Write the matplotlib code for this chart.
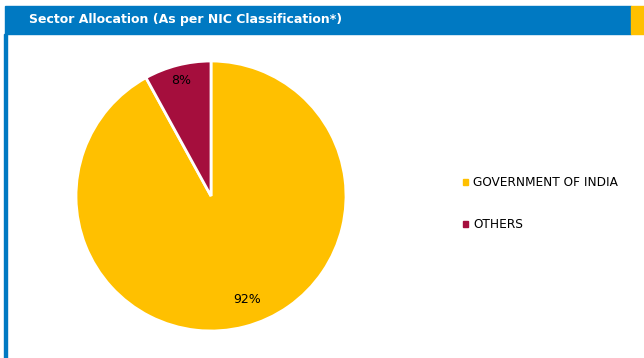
import matplotlib.pyplot as plt
from matplotlib.patches import Rectangle

sectors = ["GOVERNMENT OF INDIA", "OTHERS"]
shares = [92, 8]
colors = ["#FFC000", "#A50E3D"]
title = "Sector Allocation (As per NIC Classification*)"

W, H = 644, 358
fig = plt.figure(figsize=(W / 100, H / 100), dpi=100)

# header band, orange strip, left border
fig.patches.append(Rectangle((5 / W, 1 - 34 / H), 626 / W, 28 / H,
                             transform=fig.transFigure, color="#0079C2", zorder=0))
fig.patches.append(Rectangle((631 / W, 1 - 34 / H), 13 / W, 28 / H,
                             transform=fig.transFigure, color="#FFC000", zorder=0))
fig.patches.append(Rectangle((4 / W, 0), 2.5 / W, 1 - 34 / H,
                             transform=fig.transFigure, color="#0079C2", zorder=0))
fig.text(29 / W, 1 - 20 / H, title, color="white", fontsize=9,
         fontweight="bold", va="center", ha="left")

# pie: center (211,196), radius 135 px
ax = fig.add_axes([76 / W, 27 / H, 270 / W, 270 / H])
wedges, texts, autotexts = ax.pie(shares, colors=colors, startangle=90,
                                  counterclock=False, autopct="%d%%",
                                  pctdistance=0.88,
                                  wedgeprops=dict(edgecolor="white", linewidth=2),
                                  textprops=dict(fontsize=9, color="black"))
autotexts[0].set_position((0.27, -0.77))
ax.set_xlim(-1, 1)
ax.set_ylim(-1, 1)
ax.set_aspect("equal")

handles = [Rectangle((0, 0), 1, 1, color=c) for c in colors]
fig.legend(handles, sectors, loc="center left",
           bbox_to_anchor=(452 / W, 1 - 204 / H), frameon=False,
           fontsize=8.7, handlelength=0.45, handleheight=0.45,
           handletextpad=0.4, labelspacing=2.4)

plt.savefig("out.png", dpi=100)
